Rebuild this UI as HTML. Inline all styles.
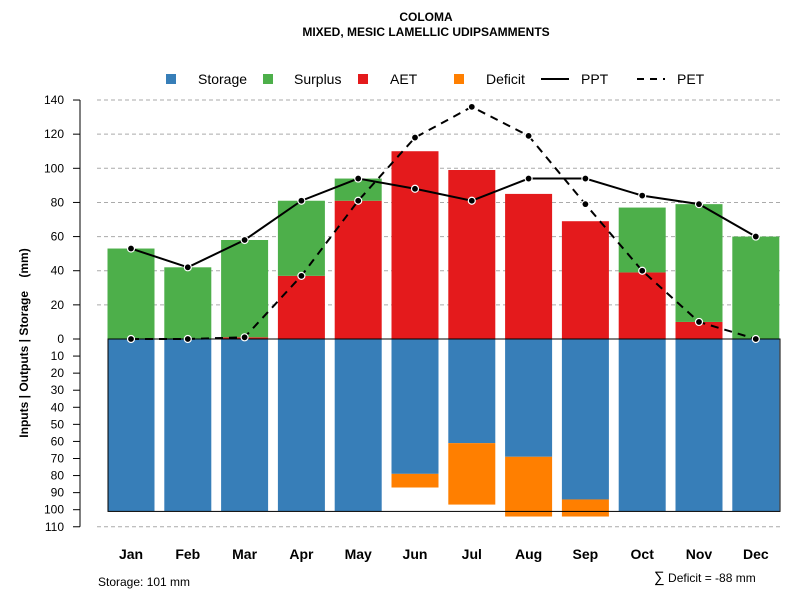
<!DOCTYPE html>
<html><head><meta charset="utf-8"><style>
body{margin:0;background:#fff;}
svg{display:block;font-family:"Liberation Sans",Arial,sans-serif;}
</style></head><body>
<svg id="chart" width="800" height="600">
<text x="426" y="21" text-anchor="middle" font-size="12" font-weight="bold">COLOMA</text>
<text x="426" y="36" text-anchor="middle" font-size="12" font-weight="bold">MIXED, MESIC LAMELLIC UDIPSAMMENTS</text>
<g font-size="14">
<rect x="166" y="74" width="10" height="10" fill="#377eb8"/>
<text x="198" y="84">Storage</text>
<rect x="263" y="74" width="10" height="10" fill="#4daf4a"/>
<text x="294" y="84">Surplus</text>
<rect x="358" y="74" width="10" height="10" fill="#e41a1c"/>
<text x="390" y="84">AET</text>
<rect x="454" y="74" width="10" height="10" fill="#ff7f00"/>
<text x="486" y="84">Deficit</text>
<line x1="541" y1="79" x2="569" y2="79" stroke="#000" stroke-width="2"/>
<text x="581" y="84">PPT</text>
<line x1="637" y1="79" x2="665" y2="79" stroke="#000" stroke-width="2" stroke-dasharray="7,6"/>
<text x="677" y="84">PET</text>
</g>
<text transform="translate(28,343) rotate(-90)" text-anchor="middle" font-size="12" font-weight="bold">Inputs | Outputs | Storage &#160;&#160;&#160;(mm)</text>
<text x="98" y="586" font-size="12">Storage: 101 mm</text>
<text x="654" y="582" font-size="12"><tspan font-size="15">∑</tspan> Deficit = -88 mm</text>
<g id="plot"></g>
</svg>
<script>
const months=["Jan","Feb","Mar","Apr","May","Jun","Jul","Aug","Sep","Oct","Nov","Dec"];
const aet=[0,0,1,37,81,110,99,85,69,39,10,0];
const surplus=[53,42,57,44,13,0,0,0,0,38,69,60];
const storage=[101,101,101,101,101,79,61,69,94,101,101,101];
const deficit=[0,0,0,0,0,8,36,35,10,0,0,0];
const ppt=[53,42,58,81,94,88,81,94,94,84,79,60];
const pet=[0,0,1,37,81,118,136,119,79,40,10,0];
const upTicks=[0,20,40,60,80,100,120,140];
const downTicks=[10,20,30,40,50,60,70,80,90,100,110];

const NS="http://www.w3.org/2000/svg";
const g=document.getElementById('plot');
const Y0=339,K=1.707;
const yUp=v=>Y0-v*K, yDn=v=>Y0+v*K;
const xC=i=>131+i*56.8;
const BW=47;
function mk(t,a,p){const e=document.createElementNS(NS,t);for(const k in a)e.setAttribute(k,a[k]);(p||g).appendChild(e);return e;}
upTicks.forEach(v=>{if(v>0){const l=mk('line',{x1:97,x2:780,y1:yUp(v),y2:yUp(v),stroke:'#aaa','stroke-dasharray':'4,3'});

}});
[110].forEach(v=>{const l=mk('line',{x1:97,x2:780,y1:yDn(v),y2:yDn(v),stroke:'#aaa','stroke-dasharray':'4,3'});

});
months.forEach((m,i)=>{
 const x=xC(i)-BW/2;
 let r;
 r=mk('rect',{x,y:yDn(0),width:BW,height:storage[i]*K,fill:'#377eb8'});
 
 
 if(deficit[i]>0){r=mk('rect',{x,y:yDn(storage[i]),width:BW,height:deficit[i]*K,fill:'#ff7f00'});
 
 }
 if(aet[i]>0){r=mk('rect',{x,y:yUp(aet[i]),width:BW,height:aet[i]*K,fill:'#e41a1c'});
 
 }
 if(surplus[i]>0){r=mk('rect',{x,y:yUp(aet[i]+surplus[i]),width:BW,height:surplus[i]*K,fill:'#4daf4a'});
 
 }
 const t=mk('text',{x:xC(i),y:559,'text-anchor':'middle','font-size':14,'font-weight':'bold'});
 t.textContent=m;
 
 
});
let bx=mk('rect',{x:108,y:Y0,width:672,height:101*K,fill:'none',stroke:'#000','stroke-width':1});


function series(arr,name,dash){
 const pts=arr.map((v,i)=>xC(i)+','+yUp(v)).join(' ');
 const pl=mk('polyline',{points:pts,fill:'none',stroke:'#000','stroke-width':2,'stroke-dasharray':dash});
 
 
 arr.forEach((v,i)=>{const c=mk('circle',{cx:xC(i),cy:yUp(v),r:3.5,fill:'#000',stroke:'#fff','stroke-width':1.2});
 
 });
}
series(pet,'pet','8,6');
series(ppt,'ppt','none');
let ax=mk('line',{x1:80,x2:80,y1:yUp(140),y2:yDn(110),stroke:'#000'});


function tick(y,label,nm){
 const l=mk('line',{x1:73,x2:80,y1:y,y2:y,stroke:'#000'});
 
 
 const t=mk('text',{x:64,y:y+4,'text-anchor':'end','font-size':12});
 t.textContent=label;
 
 
}
upTicks.forEach(v=>tick(yUp(v),v,'up-'+v));
downTicks.forEach(v=>tick(yDn(v),v,'down-'+v));
</script>
</body></html>
